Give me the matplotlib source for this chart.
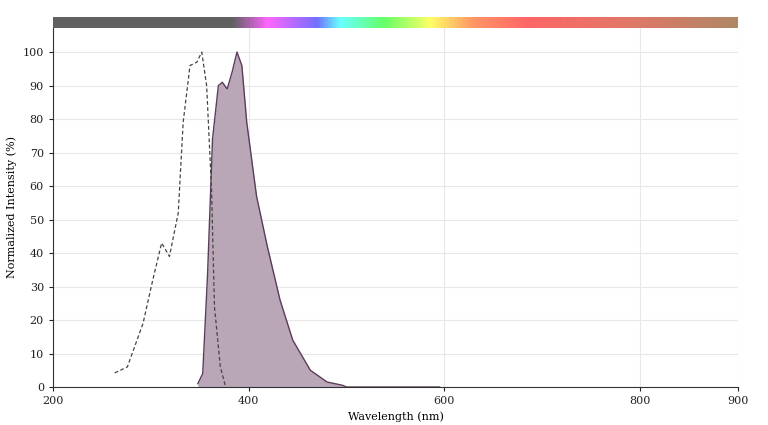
import numpy as np
import matplotlib.pyplot as plt
from matplotlib.colors import LinearSegmentedColormap

# excitation (dashed)
ex_nm = [263, 276, 292, 302, 311, 319, 328, 333, 340, 347, 352, 357, 362, 365, 371, 376]
ex_val = [4.2, 6, 19, 32, 43, 39, 52, 79, 96, 97, 100, 90, 59, 24, 6, 0.5]

# emission (filled)
em_nm = [348, 353, 358, 363, 369, 373, 378, 383, 388, 393, 398, 408, 419, 432, 445, 463, 480, 496, 500, 595]
em_val = [1, 4, 34, 74, 90, 91, 89, 94, 100, 96, 79, 57, 42, 26, 14, 5, 1.5, 0.5, 0, 0]

bar_nm = [200, 382, 419, 470, 493, 539, 586, 628, 683, 791, 900]
bar_col = ['#606060', '#606060', '#ff66ff', '#7070ff', '#66ffff', '#66ff66', '#ffff66',
           '#ff9966', '#ff6666', '#e07766', '#b08866']

fig = plt.figure(figsize=(7.68, 4.25), dpi=100)
ax = fig.add_axes([53/768, 1-387/425, 685/768, 360/425])
cb = fig.add_axes([53/768, 1-28/425, 685/768, 11/425])

ax.fill_between(em_nm, em_val, color='#b9a7b7', lw=0)
ax.plot(em_nm, em_val, color='#5a3d5a', lw=1)
ax.plot(ex_nm, ex_val, color='#444444', lw=0.9, ls=(0, (3, 2)))

ax.set_xlim(200, 900)
ax.set_ylim(0, 107.5)
ax.set_xticks([200, 400, 600, 800, 900])
ax.set_yticks(range(0, 101, 10))
ax.grid(color='#e8e8e8', lw=0.8)
ax.set_axisbelow(True)
for s in ['top', 'right']:
    ax.spines[s].set_visible(False)
ax.spines['left'].set_color('#333333')
ax.spines['bottom'].set_color('#333333')
ax.tick_params(labelsize=8, length=3, colors='#222222')
for t in ax.get_xticklabels() + ax.get_yticklabels():
    t.set_family('DejaVu Serif')
ax.set_xlabel('Wavelength (nm)', fontsize=8, family='DejaVu Serif')
ax.set_ylabel('Normalized Intensity (%)', fontsize=8, family='DejaVu Serif')

pos = [(n - 200) / 700 for n in bar_nm]
cmap = LinearSegmentedColormap.from_list('spec', list(zip(pos, bar_col)))
cb.imshow(np.linspace(0, 1, 500)[None, :], aspect='auto', cmap=cmap, extent=[200, 900, 0, 1])
cb.set_axis_off()

fig.savefig('out.png')
